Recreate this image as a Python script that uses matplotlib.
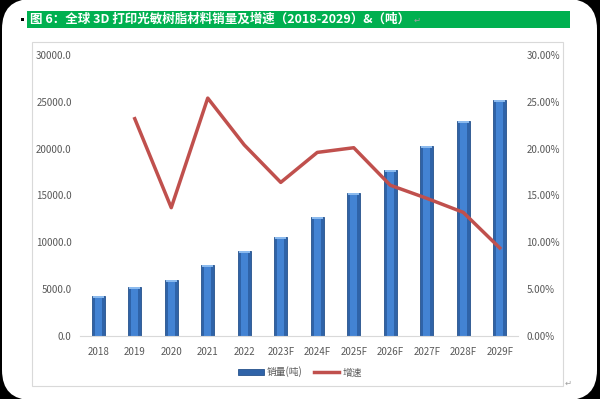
import numpy as np
import matplotlib.pyplot as plt
from matplotlib.patches import FancyBboxPatch, Rectangle
from matplotlib.ticker import FuncFormatter

plt.rcParams['font.family'] = ['Noto Sans CJK SC', 'DejaVu Sans']

years = ['2018', '2019', '2020', '2021', '2022', '2023F', '2024F',
         '2025F', '2026F', '2027F', '2028F', '2029F']
sales = [4270, 5230, 5980, 7580, 9070, 10570, 12700, 15260, 17720, 20280, 22950, 25190]
growth = [np.nan, 0.232, 0.137, 0.254, 0.204, 0.164, 0.196, 0.201, 0.161, 0.147, 0.132, 0.094]

fig = plt.figure(figsize=(6, 3.99), dpi=100, facecolor='black')

# background layer in pixel coordinates
bg = fig.add_axes([0, 0, 1, 1], zorder=-10)
bg.set_xlim(0, 600)
bg.set_ylim(399, 0)
bg.axis('off')
bg.add_patch(FancyBboxPatch((2, -1), 595, 401, boxstyle='round,pad=0,rounding_size=30',
                            facecolor='white', edgecolor='none'))
# title bar
bg.add_patch(Rectangle((27, 11), 543, 17, facecolor='#00B050', edgecolor='none'))
bg.add_patch(Rectangle((21, 18), 3, 3, facecolor='black', edgecolor='none'))
bg.text(30, 19.5, '图 6：全球 3D 打印光敏树脂材料销量及增速（2018-2029）&（吨）',
        color='white', fontsize=9, fontweight='bold', va='center', ha='left')
bg.text(414, 20, '↵', color='#A0A0A0', fontsize=6, va='center', family=['DejaVu Sans'])
# chart area border
bg.add_patch(Rectangle((32, 42), 531, 344, facecolor='none', edgecolor='#D9D9D9',
                       linewidth=0.8))
bg.text(565, 383, '↵', color='#A0A0A0', fontsize=6, va='center', family=['DejaVu Sans'])

ax = fig.add_axes([80 / 600, 1 - 336 / 399, 438 / 600, 281 / 399])
ax.set_facecolor('none')
x = np.arange(len(years))
ax.bar(x, sales, width=0.35, color='#2F63A8', edgecolor='#26528C', linewidth=0.6,
       label='销量(吨)', zorder=2)
# lighter centre to suggest the shaded bars
ax.bar(x, sales, width=0.2, color='#4383D3', edgecolor='none', zorder=2.5)
# light caps on the bars
ax.bar(x, [250] * len(x), bottom=np.array(sales) - 250, width=0.3, color='#8BBAEE',
       edgecolor='none', zorder=3)
ax.set_ylim(0, 30000)
ax.set_xlim(-0.5, len(years) - 0.5)
ax.set_yticks(np.arange(0, 30001, 5000))
ax.yaxis.set_major_formatter(FuncFormatter(lambda v, p: f'{v:.1f}'))
ax.set_xticks(x)
ax.set_xticklabels(years)
for s in ['top', 'right', 'left']:
    ax.spines[s].set_visible(False)
ax.spines['bottom'].set_color('#D9D9D9')
ax.tick_params(axis='both', length=0, labelsize=7, colors='#595959', pad=8)
ax.tick_params(axis='y', pad=6)

ax2 = ax.twinx()
ax2.plot(x, growth, color='#C0504D', linewidth=2.5, label='增速', zorder=4)
ax2.set_ylim(0, 0.30)
ax2.set_yticks(np.arange(0, 0.301, 0.05))
ax2.yaxis.set_major_formatter(FuncFormatter(lambda v, p: f'{v * 100:.2f}%'))
for s in ['top', 'right', 'left', 'bottom']:
    ax2.spines[s].set_visible(False)
ax2.tick_params(axis='y', length=0, labelsize=7, colors='#595959', pad=6)

h1, l1 = ax.get_legend_handles_labels()
h2, l2 = ax2.get_legend_handles_labels()
fig.legend(h1 + h2, l1 + l2, loc='center', bbox_to_anchor=(300 / 600, 1 - 372 / 399),
           ncol=2, frameon=False, fontsize=7, labelcolor='#595959',
           handlelength=2.6, handleheight=0.5, columnspacing=1.2, handletextpad=0.3)

fig.savefig('out.png', dpi=100, facecolor='black')
